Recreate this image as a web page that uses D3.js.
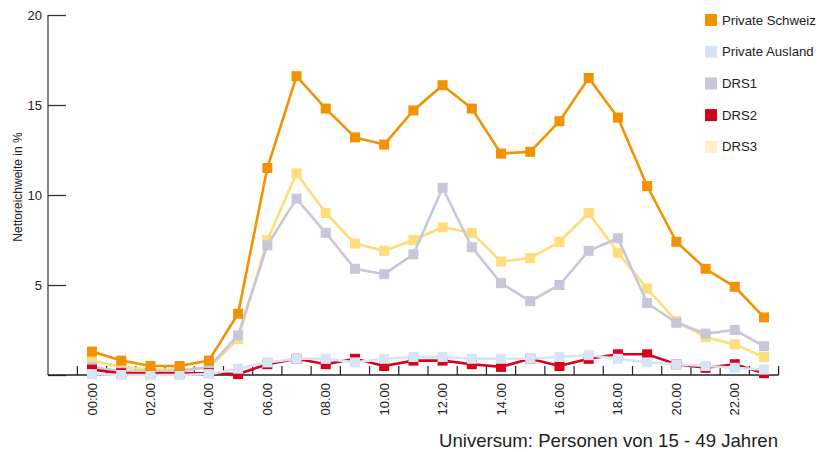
<!DOCTYPE html>
<html>
<head>
<meta charset="utf-8">
<script src="https://cdn.jsdelivr.net/npm/d3@7"></script>
<style>
  body { margin: 0; background: #fff; }
  svg { display: block; font-family: "Liberation Sans", Arial, Helvetica, sans-serif; }
</style>
</head>
<body>
<div id="chart"></div>
<script>
// hours 0..23
const hours = d3.range(0, 24);
const hourLabels = ['00:00', '', '02.00', '', '04.00', '', '06.00', '', '08.00', '', '10.00', '',
                    '12.00', '', '14.00', '', '16.00', '', '18.00', '', '20.00', '', '22.00', ''];

const privateSchweiz = [1.3, 0.8, 0.5, 0.5, 0.8, 3.4, 11.5, 16.6, 14.8, 13.2, 12.8, 14.7,
                        16.1, 14.8, 12.3, 12.4, 14.1, 16.5, 14.3, 10.5, 7.4, 5.9, 4.9, 3.2];
const privateAusland = [0.05, 0.0, 0.0, 0.0, 0.05, 0.35, 0.7, 0.9, 0.9, 0.7, 0.9, 1.0,
                        1.0, 0.9, 0.9, 0.9, 1.0, 1.1, 0.9, 0.7, 0.6, 0.5, 0.4, 0.3];
const drs1 = [0.45, 0.2, 0.2, 0.2, 0.45, 2.2, 7.2, 9.8, 7.9, 5.9, 5.6, 6.7,
              10.4, 7.1, 5.1, 4.1, 5.0, 6.9, 7.6, 4.0, 2.9, 2.3, 2.5, 1.6];
const drs2 = [0.3, 0.1, 0.1, 0.1, 0.1, 0.05, 0.6, 0.9, 0.6, 0.9, 0.5, 0.8,
              0.8, 0.6, 0.45, 0.9, 0.5, 0.9, 1.15, 1.15, 0.6, 0.4, 0.6, 0.1];
const drs3 = [0.8, 0.45, 0.3, 0.3, 0.4, 2.0, 7.5, 11.2, 9.0, 7.3, 6.9, 7.5,
              8.2, 7.9, 6.3, 6.5, 7.4, 9.0, 6.8, 4.8, 3.0, 2.1, 1.7, 1.0];

const yTicks = [0, 5, 10, 15, 20];

const series = [
  { name: 'Private Schweiz', values: privateSchweiz, color: '#f39200', key: '#f39200' },
  { name: 'Private Ausland', values: privateAusland, color: '#d5e5f4', key: '#d5e5f4' },
  { name: 'DRS1', values: drs1, color: '#c6c8da', key: '#c6c8da' },
  { name: 'DRS2', values: drs2, color: '#d8001c', key: '#d0021b' },
  { name: 'DRS3', values: drs3, color: '#ffdd7a', key: '#ffefc4' }
];
// drawing order (bottom to top)
const drawOrder = ['DRS3', 'DRS1', 'DRS2', 'Private Ausland', 'Private Schweiz'];

const width = 827, height = 452;
const plotLeft = 48, plotTop = 15, plotBottom = 375;

const svg = d3.select('#chart').append('svg')
  .attr('width', width)
  .attr('height', height);

const x = d3.scaleBand()
  .domain(hours)
  .range([77.4, 778.6]);

const y = d3.scaleLinear()
  .domain([0, 20])
  .range([plotBottom, plotTop]);

// y axis
const yAxis = svg.append('g')
  .attr('transform', `translate(${plotLeft},0)`)
  .call(d3.axisRight(y).tickValues(yTicks).tickSize(18).tickFormat(''));
yAxis.select('.domain').attr('d', `M0,${plotTop}V${plotBottom}`).attr('stroke', '#444').attr('stroke-width', 1.3);
yAxis.selectAll('.tick line').attr('stroke', '#333').attr('stroke-width', 1.3);

svg.append('g')
  .selectAll('text')
  .data(yTicks.filter(d => d > 0))
  .enter()
  .append('text')
  .attr('x', plotLeft - 6)
  .attr('y', d => y(d))
  .attr('dy', '0.35em')
  .attr('text-anchor', 'end')
  .attr('font-size', 13)
  .attr('fill', '#222')
  .text(d => d);

svg.append('text')
  .attr('transform', `translate(22,187) rotate(-90)`)
  .attr('text-anchor', 'middle')
  .attr('font-size', 12)
  .attr('fill', '#222')
  .text('Nettoreichweite in %');

// x axis
const xEdges = hours.map(h => x(h)).concat([x(23) + x.bandwidth()]);
const xg = svg.append('g');
xg.append('line')
  .attr('x1', plotLeft).attr('x2', xEdges[xEdges.length - 1])
  .attr('y1', plotBottom).attr('y2', plotBottom)
  .attr('stroke', '#222').attr('stroke-width', 1.5);
xg.selectAll('.xt')
  .data(xEdges)
  .enter()
  .append('line')
  .attr('x1', d => d).attr('x2', d => d)
  .attr('y1', plotBottom - 9).attr('y2', plotBottom)
  .attr('stroke', '#222').attr('stroke-width', 1.2);

xg.selectAll('.xl')
  .data(hours.filter(h => hourLabels[h]))
  .enter()
  .append('text')
  .attr('transform', h => `translate(${x(h) + x.bandwidth() / 2},383) rotate(-90)`)
  .attr('text-anchor', 'end')
  .attr('dy', '0.35em')
  .attr('font-size', 13)
  .attr('fill', '#222')
  .text(h => hourLabels[h]);

// lines
const cx = h => x(h) + x.bandwidth() / 2;
const line = d3.line()
  .x((d, i) => cx(i))
  .y(d => y(d));

const ordered = drawOrder.map(n => series.find(s => s.name === n));
ordered.forEach(s => {
  const g = svg.append('g');
  g.append('path')
    .datum(s.values)
    .attr('d', line)
    .attr('fill', 'none')
    .attr('stroke', s.color)
    .attr('stroke-width', 2.6);
  g.selectAll('rect')
    .data(s.values)
    .enter()
    .append('rect')
    .attr('x', (d, i) => cx(i) - 5)
    .attr('y', d => y(d) - 5)
    .attr('width', 10)
    .attr('height', 10)
    .attr('fill', s.color);
});

// legend
const legend = svg.append('g');
series.forEach((s, i) => {
  const ly = 20 + i * 31.7;
  legend.append('rect')
    .attr('x', 705).attr('y', ly - 6)
    .attr('width', 12).attr('height', 12)
    .attr('fill', s.key);
  legend.append('text')
    .attr('x', 722).attr('y', ly)
    .attr('dy', '0.35em')
    .attr('font-size', 13.2)
    .attr('fill', '#222')
    .text(s.name);
});

svg.append('text')
  .attr('x', 778).attr('y', 447)
  .attr('text-anchor', 'end')
  .attr('font-size', 18.6)
  .attr('fill', '#222')
  .text('Universum: Personen von 15 - 49 Jahren');
</script>
</body>
</html>
